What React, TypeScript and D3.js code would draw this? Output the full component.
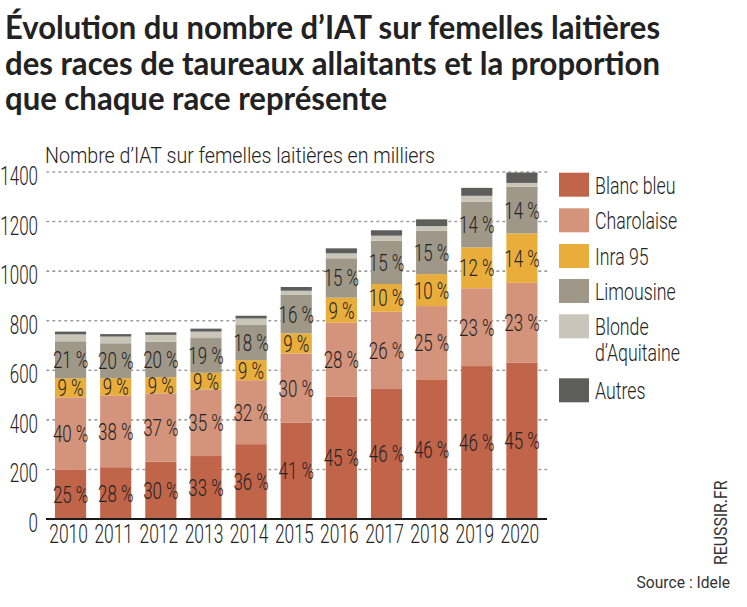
import React from "react";
import * as d3 from "d3";

const years = ["2010","2011","2012","2013","2014","2015","2016","2017","2018","2019","2020"];
const blancBleu = [198, 209, 231, 254, 302, 388, 493, 527, 561, 617, 630];
const charolaise = [293, 288, 276, 269, 258, 280, 299, 309, 298, 314, 323];
const inra95 = [77, 71, 65, 67, 81, 81, 101, 112, 129, 165, 199];
const limousine = [149, 141, 143, 140, 144, 155, 159, 175, 175, 184, 188];
const blonde = [28, 27, 28, 26, 24, 17, 20, 20, 19, 24, 16];
const autres = [11, 10, 10, 12, 11, 15, 20, 22, 27, 32, 42];

const pctBlancBleu = [25, 28, 30, 33, 36, 41, 45, 46, 46, 46, 45];
const pctCharolaise = [40, 38, 37, 35, 32, 30, 28, 26, 25, 23, 23];
const pctInra = [9, 9, 9, 9, 9, 9, 9, 10, 10, 12, 14];
const pctLimousine = [21, 20, 20, 19, 18, 16, 15, 15, 15, 14, 14];

const seriesKeys = ["Blanc bleu", "Charolaise", "Inra 95", "Limousine", "Blonde d'Aquitaine", "Autres"];
const seriesColors = ["#c0644a", "#d4937b", "#e9ad3c", "#9f9787", "#c9c5b8", "#5d5d5c"];
const yTicks = [0, 200, 400, 600, 800, 1000, 1200, 1400];

const titleLines = [
  "Évolution du nombre d’IAT sur femelles laitières",
  "des races de taureaux allaitants et la proportion",
  "que chaque race représente",
];

export default function App() {
  const values = [blancBleu, charolaise, inra95, limousine, blonde, autres];
  const pcts = [pctBlancBleu, pctCharolaise, pctInra, pctLimousine];
  const table = years.map((y, i) => {
    const row: any = { year: y };
    seriesKeys.forEach((k, j) => (row[k] = values[j][i]));
    return row;
  });
  const stacked = d3.stack().keys(seriesKeys)(table);

  const x = d3.scaleBand().domain(years).range([48, 544.5]).paddingInner(0.31).paddingOuter(0.155);
  const y = d3.scaleLinear().domain([0, 1400]).range([519, 172]);

  const cond = "Roboto, sans-serif";
  const textColor = "#232323";

  return (
    <svg width={747} height={607} style={{ position: "absolute", left: 0, top: 0, background: "#fff" }}>
      <rect width={747} height={607} fill="#ffffff" />
      {titleLines.map((t, i) => (
        <text
          key={i}
          x={5}
          y={39 + i * 35.5}
          fontFamily="Lato, sans-serif"
          fontWeight={700}
          fontSize={32}
          fill="#222"
          textLength={i === 2 ? 382 : 655}
          lengthAdjust="spacingAndGlyphs"
        >
          {t}
        </text>
      ))}
      <text x={45} y={162.5} fontFamily={cond} fontWeight={300} fontSize={22} fill={textColor} textLength={390} lengthAdjust="spacingAndGlyphs">
        Nombre d’IAT sur femelles laitières en milliers
      </text>

      {yTicks.filter((t) => t > 0).map((t) => (
        <line key={t} x1={47} x2={548} y1={y(t)} y2={y(t)} stroke="#9a9a9a" strokeWidth={1.6} strokeDasharray="1.6 4.4" strokeLinecap="round" />
      ))}
      {yTicks.map((t) => (
        <g key={t} transform={`translate(38,${y(t) + 13}) scale(0.68,1)`}>
          <text textAnchor="end" fontFamily={cond} fontWeight={300} fontSize={25} fill={textColor}>{String(t)}</text>
        </g>
      ))}

      {stacked.map((s, j) => (
        <g key={s.key}>
          {s.map((d, i) => (
            <rect
              key={i}
              x={x(years[i])}
              width={x.bandwidth()}
              y={y(d[1])}
              height={y(d[0]) - y(d[1])}
              fill={seriesColors[j]}
            />
          ))}
        </g>
      ))}

      {stacked.slice(0, 4).map((s, j) => (
        <g key={"l" + s.key}>
          {s.map((d, i) => (
            <g key={i} transform={`translate(${(x(years[i]) as number) + x.bandwidth() / 2},${(y(d[0]) + y(d[1])) / 2}) scale(0.72,1)`}>
              <text textAnchor="middle" dy="0.36em" fontFamily={cond} fontWeight={300} fontSize={23.5} fill={textColor}>
                {pcts[j][i] + " %"}
              </text>
            </g>
          ))}
        </g>
      ))}

      <line x1={46} x2={547} y1={y(0)} y2={y(0)} stroke="#1a1a1a" strokeWidth={2} />
      {years.map((yr) => (
        <g key={yr} transform={`translate(${(x(yr) as number) + x.bandwidth() / 2 - 2},542.5) scale(0.67,1)`}>
          <text textAnchor="middle" fontFamily={cond} fontWeight={300} fontSize={26} fill={textColor}>{yr}</text>
        </g>
      ))}

      {seriesKeys.map((k, j) => {
        const tops = [172.7, 208.3, 244, 279, 314.3, 378.3];
        const ty = tops[j];
        const lines = k === "Blonde d'Aquitaine" ? ["Blonde", "d’Aquitaine"] : [k];
        return (
          <g key={"lg" + k}>
            <rect x={559} y={ty} width={30} height={24} fill={seriesColors[j]} />
            {lines.map((ln, li) => (
              <g key={li} transform={`translate(595,${ty + 20.8 + li * 26}) scale(0.74,1)`}>
                <text fontFamily={cond} fontWeight={300} fontSize={24} fill={textColor}>{ln}</text>
              </g>
            ))}
          </g>
        );
      })}

      <g transform="translate(727,565) rotate(-90) scale(0.88,1)">
        <text fontFamily={cond} fontSize={18} fill="#333">REUSSIR.FR</text>
      </g>
      <g transform="translate(730,588) scale(0.92,1)">
        <text textAnchor="end" fontFamily={cond} fontSize={17} fill="#333">Source : Idele</text>
      </g>
    </svg>
  );
}
